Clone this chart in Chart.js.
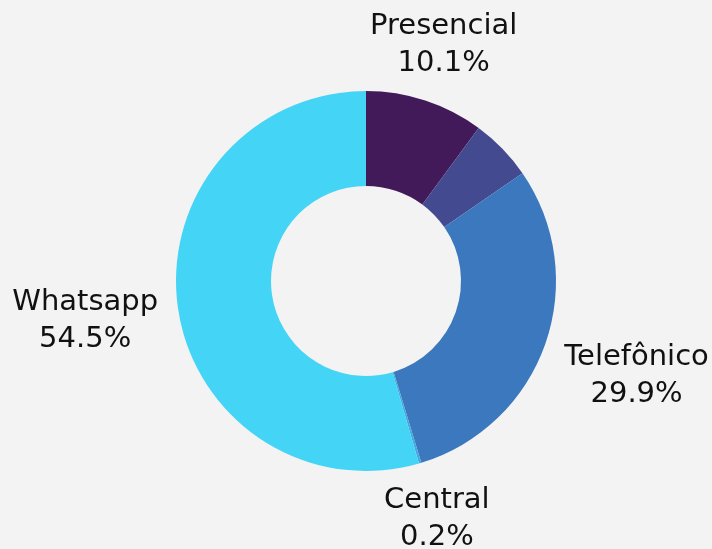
<!DOCTYPE html>
<html>
<head>
<meta charset="utf-8">
<script src="https://cdn.jsdelivr.net/npm/chart.js@4"></script>
<style>
  html, body { margin: 0; padding: 0; background: #f3f3f3; }
  #wrap { width: 712px; height: 549px; }
</style>
</head>
<body>
<div id="wrap"><canvas id="myChart" width="712" height="549"></canvas></div>
<script>
// DATA
const canais = ["Presencial", "", "Telefônico", "Central", "Whatsapp"];
const percentuais = [10.1, 5.3, 29.9, 0.2, 54.5];
const cores = ["#421a5a", "#434a8f", "#3b78be", "#43a9e0", "#44d4f5"];

// labels outside the ring, pushed out along the mid angle of each slice
const outerLabels = {
  id: "outerLabels",
  afterDatasetsDraw(chart) {
    const ctx = chart.ctx;
    const meta = chart.getDatasetMeta(0);
    const lineH = 37;
    const offset = 20;
    ctx.save();
    ctx.font = "29px 'DejaVu Sans'";
    ctx.fillStyle = "#111111";
    ctx.textAlign = "center";
    ctx.textBaseline = "middle";
    meta.data.forEach((arc, i) => {
      if (!canais[i]) return;
      const lines = [canais[i], percentuais[i].toFixed(1) + "%"];
      const w = Math.max(...lines.map(l => ctx.measureText(l).width));
      const h = lines.length * lineH;
      const p = arc.getProps(["x", "y", "startAngle", "endAngle", "outerRadius"], true);
      const a = (p.startAngle + p.endAngle) / 2;
      const cx = Math.cos(a), cy = Math.sin(a);
      const ext = Math.min(
        Math.abs(cx) > 1e-6 ? (w / 2) / Math.abs(cx) : Infinity,
        Math.abs(cy) > 1e-6 ? (h / 2) / Math.abs(cy) : Infinity
      );
      const d = p.outerRadius + offset + ext;
      const x = p.x + cx * d;
      const y = p.y + cy * d;
      lines.forEach((l, k) => {
        ctx.fillText(l, x, y - h / 2 + lineH / 2 + k * lineH);
      });
    });
    ctx.restore();
  }
};

const data = {
  labels: canais,
  datasets: [{
    data: percentuais,
    backgroundColor: cores,
    borderWidth: 0
  }]
};

const config = {
  type: "doughnut",
  data,
  options: {
    responsive: false,
    animation: false,
    cutout: "50%",
    layout: { padding: { top: 91, bottom: 78, left: 20, right: 0 } },
    plugins: {
      legend: { display: false },
      tooltip: { enabled: false }
    }
  },
  plugins: [outerLabels]
};

new Chart(document.getElementById("myChart"), config);
</script>
</body>
</html>
